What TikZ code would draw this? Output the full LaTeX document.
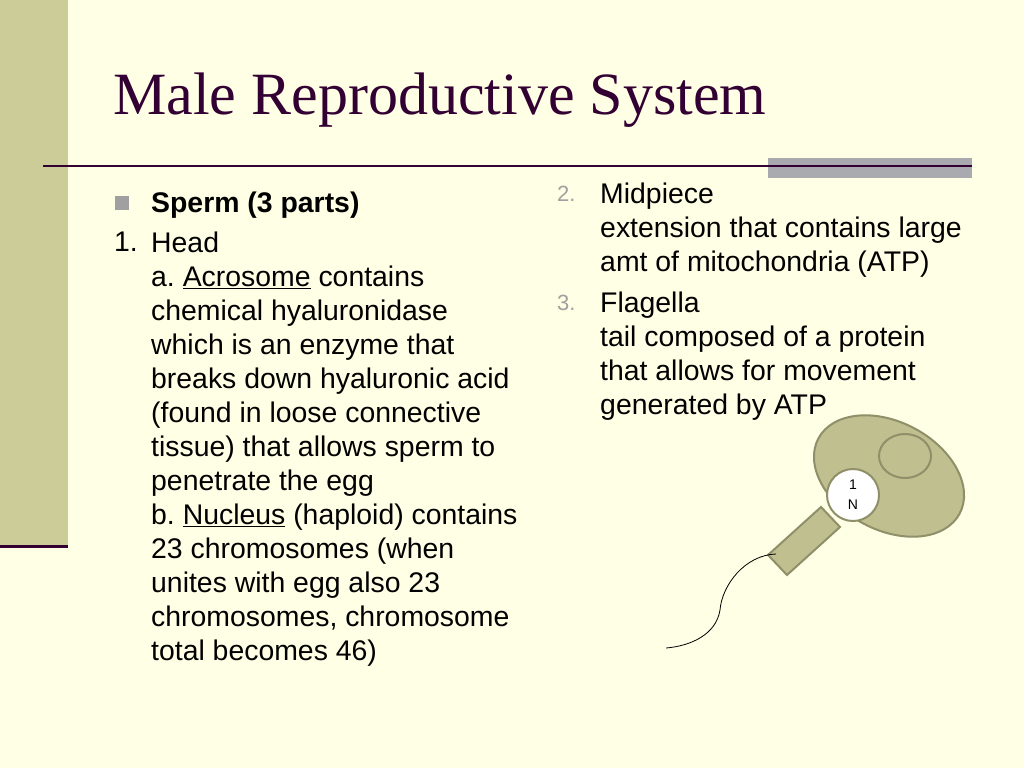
\documentclass[tikz,border=0pt]{standalone}
\usepackage{fontspec}
\setmainfont{Liberation Sans}
\newfontfamily\titlefont{Liberation Serif}
\definecolor{bg}{HTML}{FFFFE6}
\definecolor{side}{HTML}{CCCC99}
\definecolor{dark}{HTML}{330033}
\definecolor{greybar}{HTML}{A9A9B0}
\definecolor{cell}{HTML}{BFBF8F}
\definecolor{celledge}{HTML}{8F8F6A}
\definecolor{numgrey}{HTML}{A0A0A0}
\tikzset{body/.style={anchor=north west,inner sep=0pt,align=left,font=\fontsize{28.4}{34}\selectfont},
num/.style={anchor=north west,inner sep=0pt,font=\fontsize{22}{34}\selectfont,text=numgrey}}
\begin{document}
\begin{tikzpicture}[x=1pt,y=-1pt]
\useasboundingbox (0,0) rectangle (1024,768);
\fill[bg] (0,0) rectangle (1024,768);
\fill[side] (0,0) rectangle (68,548);
\draw[dark,line width=3pt] (0,546) -- (68,546);
\fill[greybar] (768,158) rectangle (972,178);
\draw[dark,line width=2pt] (43,166) -- (972,166);
\node[anchor=west,inner sep=0pt,text=dark,font=\titlefont\fontsize{60}{70}\selectfont] (title) at (113,100) {Male Reproductive System};
\fill[numgrey] (115,196) rectangle (129,210);
\node[body,font=\bfseries\fontsize{28.4}{34}\selectfont] (sperm) at (151,192) {Sperm (3 parts)};
\node[body] (n1) at (114,232) {1.};
\node[body] (head) at (151,232) {Head\\a.\ \underline{Acrosome} contains\\chemical hyaluronidase\\which is an enzyme that\\breaks down hyaluronic acid\\(found in loose connective\\tissue) that allows sperm to\\penetrate the egg\\b.\ \underline{Nucleus} (haploid) contains\\23 chromosomes (when\\unites with egg also 23\\chromosomes, chromosome\\total becomes 46)};
\node[num] (n2) at (557,186) {2.};
\node[body] (mid) at (600,183) {Midpiece\\extension that contains large\\amt of mitochondria (ATP)};
\node[num] (n3) at (557,295) {3.};
\node[body] (fla) at (600,292) {Flagella\\tail composed of a protein\\that allows for movement\\generated by ATP};
% sperm drawing
\draw[celledge,fill=cell,line width=2pt] (768,555) -- (787,575) -- (840,527) -- (821,507) -- cycle;
\draw[celledge,fill=cell,line width=2pt] (889,476) ellipse[x radius=80,y radius=54,rotate=-28];
\draw[celledge,line width=2pt] (905,456) ellipse[x radius=26,y radius=22];
\draw[celledge,fill=white,line width=2pt] (853,495) circle (26);
\node[inner sep=0pt,align=center,font=\fontsize{14}{20}\selectfont] (nn) at (853,495) {1\\N};
\coordinate (t0) at (776,554);
\coordinate (t1) at (720,610);
\coordinate (t2) at (666,648);
\draw[black,line width=0.8pt] (t0) .. controls (745,555) and (722,585) .. (t1) .. controls (716,635) and (690,646) .. (t2);
\end{tikzpicture}
\end{document}
